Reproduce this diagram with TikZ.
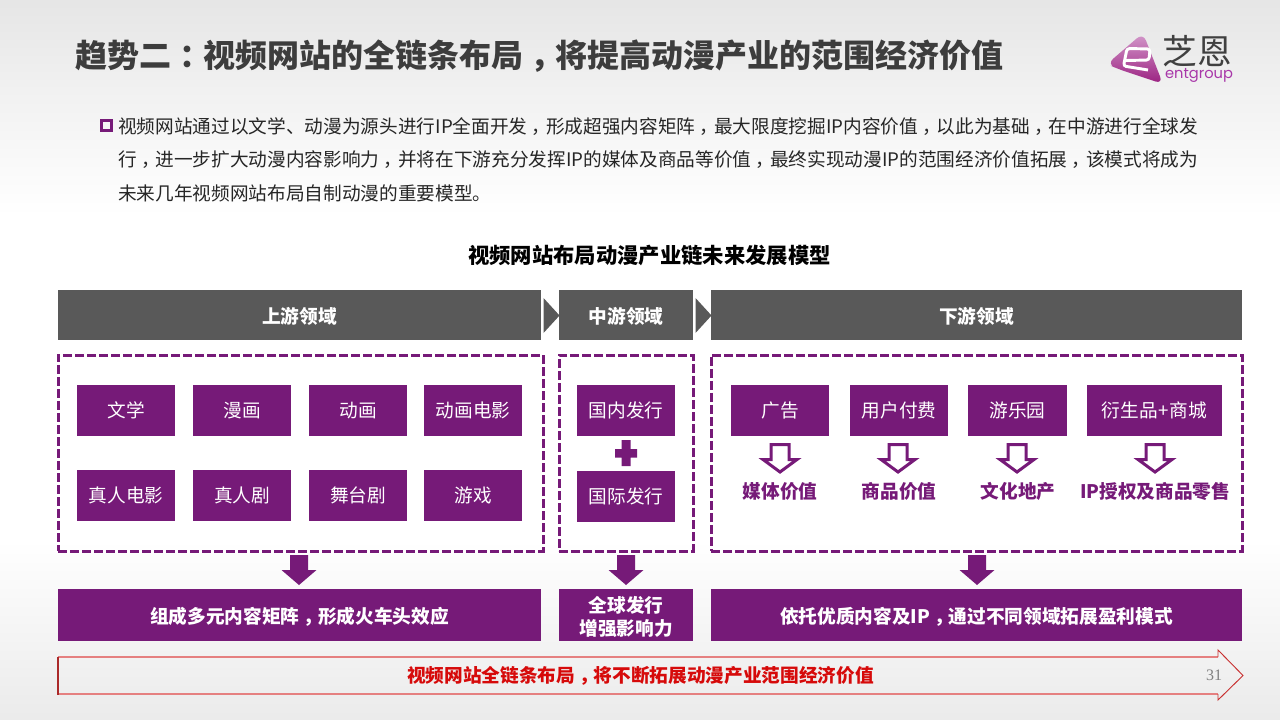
\documentclass[tikz,border=0pt]{standalone}
\usepackage{fontspec}
\setmainfont{Noto Sans CJK SC}
\newfontfamily\numfont{Liberation Serif}
\newfontfamily\logofont{Poppins}
\usetikzlibrary{calc}
\definecolor{pur}{HTML}{761A78}
\definecolor{bargrey}{HTML}{595959}
\definecolor{titlegrey}{HTML}{3D3D3D}
\definecolor{bodytext}{HTML}{262626}
\definecolor{redtext}{HTML}{D60A0A}
\definecolor{redline}{HTML}{E58080}
\definecolor{reddark}{HTML}{C83030}
\definecolor{logolight}{HTML}{D49ACB}
\definecolor{logodark}{HTML}{9A2080}
\pgfdeclareverticalshading{pagebg}{100bp}{
  color(0bp)=(white!92!black);
  color(25bp)=(white!92!black);
  color(37.5bp)=(white);
  color(60bp)=(white);
  color(68bp)=(white!95!black);
  color(75bp)=(white!90!black);
  color(100bp)=(white!90!black)}
\newcommand{\cc}[1]{\kern.22em #1\kern-.22em}
\newcommand{\bx}[7]{%
  \pgfmathsetmacro\bxcx{(#2+#4)/2}\pgfmathsetmacro\bxcy{(#3+#5)/2}%
  \pgfmathsetmacro\bxw{(#4-#2)*0.75}\pgfmathsetmacro\bxh{(#5-#3)*0.75}%
  \node[#6,minimum width=\bxw pt,minimum height=\bxh pt] (#1) at (\bxcx,\bxcy) {#7};}
\newcommand{\downsolid}[1]{\fill[pur,shift={(#1,0)}] (-9,555)--(9,555)--(9,570)--(17.5,570)--(0,585)--(-17.5,570)--(-9,570)--cycle;}
\newcommand{\downhollow}[1]{\draw[pur,line width=2.25pt,miter limit=10,shift={(#1,0)}] (-9,444.5)--(9,444.5)--(9,459.5)--(17,459.5)--(0,472)--(-17,459.5)--(-9,459.5)--cycle;}
\newcommand{\chevron}[2]{\fill[bargrey,shift={(#1,0)}] (0,298)--(#2,315.5)--(0,333)--cycle;}
\tikzset{
  pbox/.style={fill=pur,text=white,inner sep=0pt,outer sep=0pt,font=\fontsize{14}{17}\selectfont},
  pbarm/.style={fill=pur,text=white,inner sep=0pt,outer sep=0pt,align=center,font=\fontsize{14}{17.25}\selectfont\bfseries},
  pbar/.style={pbarm,text height=14pt,text depth=1.9pt},
  gbar/.style={fill=bargrey,text=white,inner sep=0pt,outer sep=0pt,text height=14pt,text depth=1.9pt,font=\fontsize{14}{17}\selectfont\bfseries},
  dashbox/.style={draw=pur,line width=2.25pt,dash pattern=on 6.6pt off 2.4pt,inner sep=0pt},
  valuelabel/.style={text=pur,inner sep=0pt,font=\fontsize{14}{17}\selectfont\bfseries},
  bodyline/.style={anchor=west,text=bodytext,inner sep=0pt,font=\fontsize{14}{17}\selectfont}
}
\begin{document}
\begin{tikzpicture}[x=0.75pt,y=-0.75pt]
\useasboundingbox (0,0) rectangle (1280,720);
\shade[shading=pagebg] (0,0) rectangle (1280,720);
% title
\node[anchor=west,inner sep=0pt,text=titlegrey,font=\fontsize{24}{28}\selectfont\bfseries] (title) at (75,56) {趋势二\kern.27em：\kern-.27em视频网站的全链条布局\cc{，}将提高动漫产业的范围经济价值};
% logo
\shade[top color=logolight,bottom color=logodark,rounded corners=6pt] (1107,64)--(1143,33)--(1163,84)--(1118,69)--cycle;
\draw[white,line width=2.2pt,rounded corners=2pt] (1126,60.5)--(1149,60)--(1150,49)--(1127,48.5)--(1123.5,66)--(1148,70);
\node[inner sep=0pt,text=black!75,font=\fontsize{26}{28}\selectfont] (logocn) at (1197.5,51.5) {芝恩};
\node[inner sep=0pt,text=pur!75!magenta!85!white,font=\logofont\fontsize{11}{12}\selectfont] (logoen) at (1199,75) {entgroup};
% body
\draw[pur,line width=1.9pt] (101.5,120.5) rectangle (111.5,130.5);
\node[bodyline] (line1) at (118,127) {视频网站通过以文学、动漫为源头进行IP全面开发\cc{，}形成超强内容矩阵\cc{，}最大限度挖掘IP内容价值\cc{，}以此为基础\cc{，}在中游进行全球发};
\node[bodyline] (line2) at (118,160) {行\cc{，}进一步扩大动漫内容影响力\cc{，}并将在下游充分发挥IP的媒体及商品等价值\cc{，}最终实现动漫IP的范围经济价值拓展\cc{，}该模式将成为};
\node[bodyline] (line3) at (118,193) {未来几年视频网站布局自制动漫的重要模型。};
\node[inner sep=0pt,text=black,font=\fontsize{16}{19}\selectfont\bfseries] (charttitle) at (649.5,255) {视频网站布局动漫产业链未来发展模型};
% header bars
\bx{hup}{58}{290}{541}{340}{gbar}{上游领域}
\bx{hmid}{559}{290}{693}{340}{gbar}{中游领域}
\bx{hdown}{711}{290}{1242}{340}{gbar}{下游领域}
\chevron{543.5}{16}
\chevron{695.5}{16}
% dashed panels
\bx{pup}{58}{355}{543}{551}{dashbox}{}
\bx{pmid}{559}{355}{693}{551}{dashbox}{}
\bx{pdown}{711}{355}{1242}{551}{dashbox}{}
% upstream boxes
\bx{a1}{77}{385}{175}{436}{pbox}{文学}
\bx{a2}{193}{385}{291}{436}{pbox}{漫画}
\bx{a3}{309}{385}{407}{436}{pbox}{动画}
\bx{a4}{424}{385}{522}{436}{pbox}{动画电影}
\bx{a5}{77}{470}{175}{521}{pbox}{真人电影}
\bx{a6}{193}{470}{291}{521}{pbox}{真人剧}
\bx{a7}{309}{470}{407}{521}{pbox}{舞台剧}
\bx{a8}{424}{470}{522}{521}{pbox}{游戏}
% midstream boxes
\bx{b1}{577}{385}{675}{436}{pbox}{国内发行}
\bx{b2}{577}{471}{675}{522}{pbox}{国际发行}
\fill[pur] (621.5,440)--(630.5,440)--(630.5,449)--(637,449)--(637,457.5)--(630.5,457.5)--(630.5,466)--(621.5,466)--(621.5,457.5)--(615,457.5)--(615,449)--(621.5,449)--cycle;
% downstream boxes
\bx{c1}{731}{385}{829}{436}{pbox}{广告}
\bx{c2}{850}{385}{948}{436}{pbox}{用户付费}
\bx{c3}{968}{385}{1067}{436}{pbox}{游乐园}
\bx{c4}{1087}{385}{1222}{436}{pbox}{衍生品\kern.7pt+\kern.7pt商城}
\downhollow{780}
\downhollow{898}
\downhollow{1017}
\downhollow{1155}
\node[valuelabel] (v1) at (780,491) {媒体价值};
\node[valuelabel] (v2) at (899,491) {商品价值};
\node[valuelabel] (v3) at (1018,491) {文化地产};
\node[valuelabel] (v4) at (1155,491) {IP授权及商品零售};
% solid arrows
\downsolid{299}
\downsolid{626}
\downsolid{977}
% bottom bars
\bx{r1}{58}{589}{541}{641}{pbar}{组成多元内容矩阵\cc{，}形成火车头效应}
\bx{r2}{559}{589}{693}{641}{pbarm}{\rule{0pt}{15.3pt}全球发行\\增强影响力}
\bx{r3}{711}{589}{1242}{641}{pbar}{依托优质内容及IP\cc{，}通过不同领域拓展盈利模式}
% red arrow
\draw[redline,line width=1.5pt] (58,657)--(1218,657);
\draw[redline,line width=1.5pt] (58,694)--(1218,694);
\draw[reddark,line width=0.7pt,miter limit=10] (1218,657)--(1218,650)--(1243,675.5)--(1218,700)--(1218,694);
\draw[reddark!85!black,line width=0.9pt] (58,656.5)--(58,694.5);
\node[inner sep=0pt,text=redtext,font=\fontsize{14}{17}\selectfont\bfseries] (redlabel) at (640.5,676) {视频网站全链条布局\cc{，}将不断拓展动漫产业范围经济价值};
\node[inner sep=0pt,text=black!50,font=\numfont\fontsize{12}{14}\selectfont] (pageno) at (1214,675) {31};
\end{tikzpicture}
\end{document}
